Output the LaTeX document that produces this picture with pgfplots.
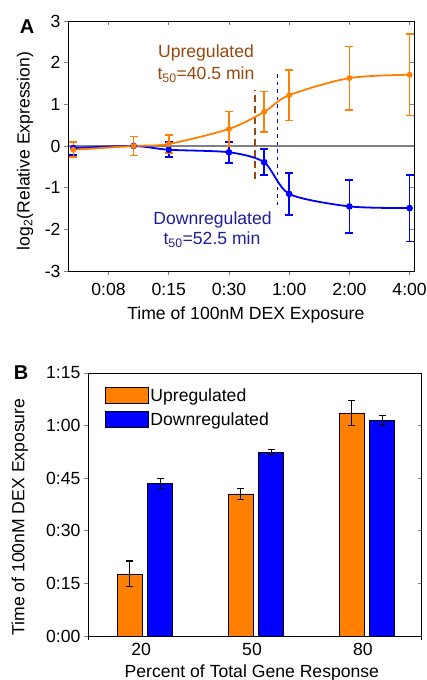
\documentclass[border=0pt]{standalone}
\usepackage{pgfplots}
\pgfplotsset{compat=1.18}
\usepackage{pgfplotstable}
\usepackage{fontspec}
\setmainfont{Liberation Sans}
\definecolor{myorange}{RGB}{255,128,0}
\definecolor{myblue}{RGB}{0,0,255}
\definecolor{brownlab}{RGB}{150,72,15}
\definecolor{navylab}{RGB}{30,30,150}
\definecolor{zerogray}{RGB}{128,128,128}

\pgfplotstableread{
u      up    uperr  dn     dnerr
-1.585 -0.09 0.18  -0.05  0.16
-0.585  0.00 0.23   0.00  0.23
 0      0.05 0.21  -0.09  0.18
 1      0.41 0.42  -0.15  0.25
 1.585  0.82 0.49  -0.39  0.31
 2      1.22 0.61  -1.15  0.51
 3      1.63 0.76  -1.45  0.63
 4      1.71 0.98  -1.49  0.80
}\dataA

\pgfplotstableread{
cat up   uperr dn   dnerr
0   17.7 3.7   43.5 1.5
1   40.5 1.6   52.4 0.75
2   63.6 3.6   61.5 1.5
}\dataB

\begin{document}
\begin{tikzpicture}[font=\fontsize{17.6}{20}\selectfont]
\pgfplotsset{
  every axis/.append style={
    font=\fontsize{17.6}{20}\selectfont,
    /pgf/number format/assume math mode=true,
    axis line style={line width=0.9pt},
    tick style={line width=0.9pt},
    major tick length=4pt,
  },
}
\path (0,0) rectangle (426pt,-680pt);

% ---------------- Panel A ----------------
\begin{axis}[
  at={(68pt,-271pt)}, anchor=south west, scale only axis,
  width=346pt, height=250pt,
  xmin=-1.674, xmax=4.073, ymin=-3, ymax=3,
  xtick={-1,0,1,2,3,4},
  xticklabels={0:08,0:15,0:30,1:00,2:00,4:00},
  xticklabel style={yshift=-5pt},
  ytick={-3,-2,-1,0,1,2,3},
  xtick pos=left, ytick pos=left, tick align=outside,
  xlabel={Time of 100nM DEX Exposure},
  ylabel={log\textsubscript{2}(Relative Expression)},
  xlabel style={at={(axis description cs:0.514,-0.176)}, anchor=center},
  ylabel style={at={(axis description cs:-0.124,0.48)}, anchor=center, rotate=0},
]
\addplot[color=zerogray, line width=1.1pt, forget plot] coordinates {(-1.674,0) (4.073,0)};
\addplot[color=brownlab, line width=1.6pt, dash pattern=on 7pt off 4pt, forget plot] coordinates {(1.433,-0.78) (1.433,1.34)};
\addplot[color=myblue, line width=1.6pt, dash pattern=on 3.5pt off 4pt, forget plot] coordinates {(1.807,-1.42) (1.807,1.8)};
\addplot[color=myblue, line width=1.8pt, smooth, tension=0.45, mark=*, mark size=2.4pt,
  error bars/.cd, y dir=both, y explicit,
  error bar style={color=myblue, line width=1.7pt, solid},
  error mark options={rotate=90, mark size=4pt, line width=1.7pt, color=myblue}]
  table[x=u, y=dn, y error=dnerr] {\dataA};
\addplot[color=myorange, line width=1.8pt, smooth, tension=0.5, mark=*, mark size=2pt,
  error bars/.cd, y dir=both, y explicit,
  error bar style={color=myorange, line width=1.7pt, solid},
  error mark options={rotate=90, mark size=4pt, line width=1.7pt, color=myorange}]
  table[x=u, y=up, y error=uperr] {\dataA};
\end{axis}
\begin{axis}[
  at={(68pt,-271pt)}, anchor=south west, scale only axis,
  width=346pt, height=250pt,
  xmin=-1.674, xmax=4.073, ymin=-3, ymax=3,
  xtick={-1,0,1,2,3,4}, xticklabels={},
  ytick={-3,-2,-1,0,1,2,3}, yticklabels={},
  xtick pos=right, ytick pos=right, tick align=inside,
]
\end{axis}

\node[brownlab, anchor=center] at (206pt,-53pt) {Upregulated};
\node[brownlab, anchor=center] at (206pt,-75pt) {t\textsubscript{50}=40.5 min};
\node[navylab, anchor=center] at (212.5pt,-220pt) {Downregulated};
\node[navylab, anchor=center] at (212pt,-240pt) {t\textsubscript{50}=52.5 min};
\node[font=\fontsize{20}{24}\selectfont\bfseries] at (27pt,-27pt) {A};

% ---------------- Panel B ----------------
\begin{axis}[
  at={(88pt,-636pt)}, anchor=south west, scale only axis,
  width=333.7pt, height=263pt,
  xmin=-0.514, xmax=2.493, ymin=0, ymax=75,
  ybar=4.9pt, bar width=25.3pt,
  ytick={0,15,30,45,60,75},
  yticklabels={0:00,0:15,0:30,0:45,1:00,1:15},
  xtick={0,1,2}, xticklabels={20,50,80},
  xticklabel style={xshift=-4pt, yshift=-2pt, inner sep=1pt},
  major x tick style={draw=none},
  extra x ticks={-0.514,2.493}, extra x tick labels={},
  extra x tick style={major x tick style={draw=black, line width=0.9pt}},
  xtick pos=left, ytick pos=left, tick align=outside,
  xlabel={Percent of Total Gene Response},
  ylabel={Time of 100nM DEX Exposure},
  xlabel style={at={(axis description cs:0.491,-0.139)}, anchor=center, inner sep=0pt},
  ylabel style={at={(axis description cs:-0.204,0.452)}, anchor=center},
  legend style={at={(axis description cs:0.04,0.958)}, anchor=north west,
    draw=none, fill=none, font=\fontsize{17.6}{20}\selectfont,
    row sep=6pt, /tikz/every even column/.append style={column sep=4pt}},
  legend cell align=left,
]
\addplot[fill=myorange, draw=black, line width=0.8pt,
  legend image code/.code={\draw[fill=myorange, draw=black, line width=0.9pt] (0pt,-8.3pt) rectangle (43pt,8.3pt);},
  error bars/.cd, y dir=both, y explicit,
  error bar style={black, line width=1.1pt},
  error mark options={rotate=90, mark size=3.5pt, line width=1.1pt, black}]
  table[x=cat, y=up, y error=uperr] {\dataB};
\addlegendentry{Upregulated}
\addplot[fill=myblue, draw=black, line width=0.8pt,
  legend image code/.code={\draw[fill=myblue, draw=black, line width=0.9pt] (0pt,-8.3pt) rectangle (43pt,8.3pt);},
  error bars/.cd, y dir=both, y explicit,
  error bar style={black, line width=1.1pt},
  error mark options={rotate=90, mark size=3.5pt, line width=1.1pt, black}]
  table[x=cat, y=dn, y error=dnerr] {\dataB};
\addlegendentry{Downregulated}
\end{axis}
\begin{axis}[
  at={(88pt,-636pt)}, anchor=south west, scale only axis,
  width=333.7pt, height=263pt,
  xmin=-0.514, xmax=2.493, ymin=0, ymax=75,
  xtick=\empty,
  ytick={0,15,30,45,60,75}, yticklabels={},
  ytick pos=right, tick align=inside,
]
\end{axis}
\node[font=\fontsize{20}{24}\selectfont\bfseries] at (21pt,-373pt) {B};

\pgfresetboundingbox
\path[use as bounding box] (0,0) rectangle (426pt,-680pt);
\end{tikzpicture}
\end{document}
